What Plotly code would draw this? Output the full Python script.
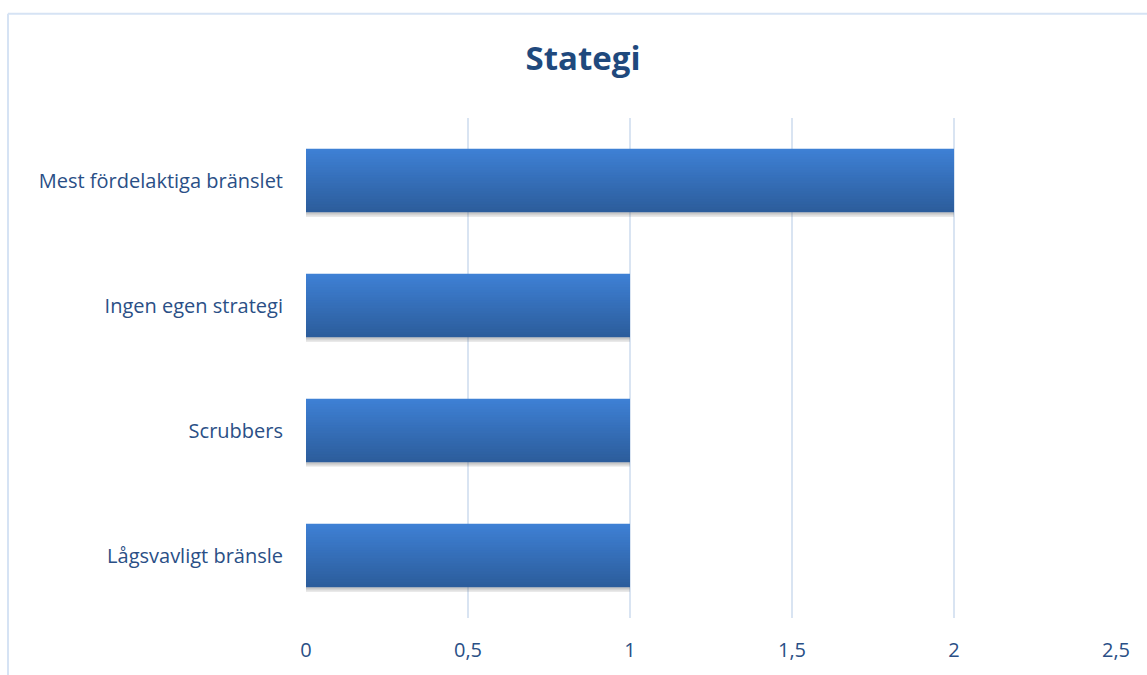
import plotly.graph_objects as go

# Strategy categories (top to bottom) and their counts
categories = [
    "Mest fördelaktiga bränslet",
    "Ingen egen strategi",
    "Scrubbers",
    "Lågsvavligt bränsle",
]
values = [2, 1, 1, 1]
tick_vals = [0, 0.5, 1, 1.5, 2, 2.5]
tick_text = ["0", "0,5", "1", "1,5", "2", "2,5"]

W, H = 1147, 675
L, R, T, B = 306, 31, 118, 53

BAR_W = 0.508
N_STRIPES = 24
TOP_RGB = (62, 128, 212)
BOT_RGB = (44, 93, 156)

FONT = "'Open Sans', Lato, sans-serif"

fig = go.Figure()

# soft drop shadow under each bar
for dy in (0.035, 0.018):
    fig.add_trace(go.Bar(
        y=categories, x=values, orientation="h",
        width=BAR_W, offset=-BAR_W / 2 + dy,
        marker=dict(color="rgba(90,90,90,0.18)", line=dict(width=0)),
        hoverinfo="skip", showlegend=False,
    ))

# vertical gradient built from thin horizontal stripes
sw = BAR_W / N_STRIPES
for i in range(N_STRIPES):
    t = i / (N_STRIPES - 1)
    r, g, b = (round(TOP_RGB[k] + (BOT_RGB[k] - TOP_RGB[k]) * t) for k in range(3))
    fig.add_trace(go.Bar(
        y=categories, x=values, orientation="h",
        width=sw * 1.3 if i < N_STRIPES - 1 else sw,
        offset=-BAR_W / 2 + i * sw,
        marker=dict(color=f"rgb({r},{g},{b})", line=dict(width=0)),
        hoverinfo="skip" if i else "x+y", showlegend=False,
    ))

label_color = "#2a4f86"

fig.update_layout(
    width=W, height=H,
    margin=dict(l=L, r=R, t=T, b=B),
    paper_bgcolor="white", plot_bgcolor="white",
    barmode="overlay",
    title=dict(
        text="<b>Stategi</b>",
        x=583 / W, xref="container", xanchor="center",
        y=1 - 58 / H, yref="container", yanchor="middle",
        font=dict(family=FONT, size=33, color="#1f497d"),
    ),
    font=dict(family=FONT, size=20, color=label_color),
    xaxis=dict(
        range=[0, 2.5], tickvals=tick_vals, ticktext=tick_text,
        showgrid=True, gridcolor="#d9e4f2", gridwidth=2,
        zeroline=False, showline=False,
        ticks="", ticklabelstandoff=18,
        tickfont=dict(family=FONT, size=20, color=label_color),
    ),
    yaxis=dict(
        categoryorder="array", categoryarray=categories,
        autorange="reversed",
        showgrid=False, zeroline=False, showline=False,
        ticks="", ticklabelstandoff=22,
        tickfont=dict(family=FONT, size=20, color=label_color),
    ),
    shapes=[
        # frame around the chart area
        dict(type="line", xref="paper", yref="paper",
             x0=(8 - L) / (W - L - R), x1=(W + 5 - L) / (W - L - R),
             y0=(H - B - 13) / (H - T - B), y1=(H - B - 13) / (H - T - B),
             line=dict(color="#d6e3f4", width=2), layer="below"),
        dict(type="line", xref="paper", yref="paper",
             x0=(8 - L) / (W - L - R), x1=(8 - L) / (W - L - R),
             y0=(H - B - 13) / (H - T - B), y1=-(B + 5) / (H - T - B),
             line=dict(color="#d6e3f4", width=2), layer="below"),
    ],
)

fig.write_html("out.html")
